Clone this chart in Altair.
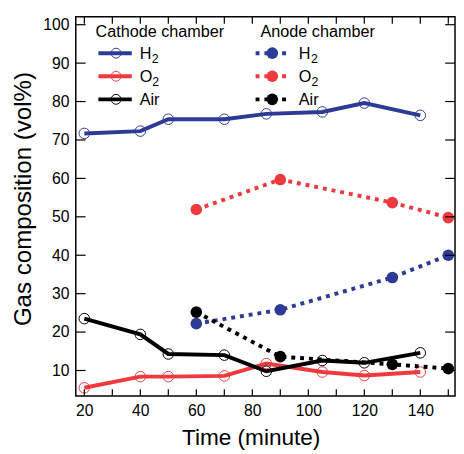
import altair as alt
import pandas as pd

FONT = "Liberation Sans"
BLUE = "#2e3b96"
RED = "#ee3a3f"
BLACK = "#000000"

# ---- data ----
gas_labels = ["H₂", "O₂", "Air"]
gas_colors = [BLUE, RED, BLACK]
# legend text split into main part and subscript
legend_main = ["H", "O", "Air"]
legend_sub = ["2", "2", ""]

time_cathode = [20, 40, 50, 70, 85, 105, 120, 140]
cathode_h2 = [71.7, 72.3, 75.4, 75.4, 76.8, 77.3, 79.6, 76.4]
cathode_o2 = [5.5, 8.4, 8.4, 8.6, 11.8, 9.6, 8.7, 9.6]
cathode_air = [23.5, 19.4, 14.3, 14.0, 9.8, 12.6, 12.0, 14.6]

time_anode = [60, 90, 130, 150]
anode_h2 = [22.2, 25.8, 34.2, 40.0]
anode_o2 = [51.9, 59.7, 53.7, 49.8]
anode_air = [25.2, 13.6, 11.6, 10.5]

x_ticks = [20, 30, 40, 50, 60, 70, 80, 90, 100, 110, 120, 130, 140, 150]
x_labels = [20, 40, 60, 80, 100, 120, 140]
y_ticks = [10, 20, 30, 40, 50, 60, 70, 80, 90, 100]

X_DOMAIN = [16.95, 152.4]
Y_DOMAIN = [3.35, 102.05]
W, H = 386, 386


def long(times, series):
    rows = []
    for gas, vals in zip(gas_labels, series):
        for t, v in zip(times, vals):
            rows.append({"gas": gas, "time": t, "value": v})
    return pd.DataFrame(rows)


cath = long(time_cathode, [cathode_h2, cathode_o2, cathode_air])
anod = long(time_anode, [anode_h2, anode_o2, anode_air])

xs = alt.Scale(domain=X_DOMAIN, nice=False, zero=False)
ys = alt.Scale(domain=Y_DOMAIN, nice=False, zero=False)
cs = alt.Scale(domain=gas_labels, range=gas_colors)

x_axis = alt.Axis(
    values=x_labels, grid=False, ticks=False, domain=False, labelFontSize=16,
    labelPadding=7, labelFont=FONT, labelColor="black", title="Time (minute)",
    titleFont=FONT, titleFontSize=23, titleFontWeight="normal", titleColor="black",
    titleX=178, titleY=49, titleBaseline="alphabetic", titleAlign="center",
)
y_axis = alt.Axis(
    values=y_ticks, grid=False, ticks=False, domain=False, labelFontSize=16,
    labelPadding=7, labelFont=FONT, labelColor="black",
    title="Gas composition (vol%)", titleFont=FONT, titleFontSize=24.5,
    titleFontWeight="normal", titleColor="black", titleX=-46, titleY=185,
    titleBaseline="alphabetic", titleAlign="center", titleAngle=-90,
)

X = alt.X("time:Q", scale=xs, axis=x_axis)
Y = alt.Y("value:Q", scale=ys, axis=y_axis)
C = alt.Color("gas:N", scale=cs, legend=None)

cath_line = alt.Chart(cath).mark_line(strokeWidth=4).encode(x=X, y=Y, color=C, order="time:Q")
cath_pts = alt.Chart(cath).mark_point(shape="circle", filled=False, size=115, strokeWidth=1, opacity=1).encode(x=X, y=Y, color=C)
an_line = alt.Chart(anod).mark_line(strokeWidth=4, strokeDash=[4, 5]).encode(x=X, y=Y, color=C, order="time:Q")
an_pts = alt.Chart(anod).mark_point(shape="circle", filled=True, size=140, opacity=1).encode(x=X, y=Y, color=C)

# ---- inward ticks ----
xt = pd.DataFrame({"t": x_ticks})
yt = pd.DataFrame({"t": y_ticks})
tick_style = dict(color="black", strokeWidth=1.2)
bot = alt.Chart(xt).mark_rule(**tick_style).encode(x=alt.X("t:Q", scale=xs), y=alt.value(H - 7), y2=alt.value(H))
top = alt.Chart(xt).mark_rule(**tick_style).encode(x=alt.X("t:Q", scale=xs), y=alt.value(0), y2=alt.value(7))
lft = alt.Chart(yt).mark_rule(**tick_style).encode(y=alt.Y("t:Q", scale=ys), x=alt.value(0), x2=alt.value(10))
rgt = alt.Chart(yt).mark_rule(**tick_style).encode(y=alt.Y("t:Q", scale=ys), x=alt.value(W - 10), x2=alt.value(W))

# ---- legend ----
one = pd.DataFrame({"k": [0]})
legend_layers = []


def txt(x, y, s, size=16.5, baseline="middle"):
    return alt.Chart(one).mark_text(
        align="left", baseline=baseline, font=FONT, fontSize=size, color="black"
    ).encode(x=alt.value(x), y=alt.value(y), text=alt.value(s))


def label(x, y, main, sub):
    out = [txt(x, y + 6, main, baseline="alphabetic")]
    if sub:
        w = 0.75 * 16.5 if main == "O" else 0.72 * 16.5
        out.append(txt(x + w + 0.5, y + 10, sub, size=12.5, baseline="alphabetic"))
    return out


legend_layers.append(txt(20, 16, "Cathode chamber"))
legend_layers.append(txt(188, 16, "Anode chamber"))
rows_y = [37, 60.5, 84]
for main, sub, col, ly in zip(legend_main, legend_sub, gas_colors, rows_y):
    # cathode
    legend_layers.append(alt.Chart(one).mark_rule(color=col, strokeWidth=4).encode(
        x=alt.value(23), x2=alt.value(57), y=alt.value(ly)))
    legend_layers.append(alt.Chart(one).mark_point(
        shape="circle", filled=False, size=100, strokeWidth=1, color=col, opacity=1
    ).encode(x=alt.value(41), y=alt.value(ly)))
    legend_layers += label(65, ly, main, sub)
    # anode
    legend_layers.append(alt.Chart(one).mark_rule(color=col, strokeWidth=4, strokeDash=[4, 5]).encode(
        x=alt.value(183), x2=alt.value(217), y=alt.value(ly)))
    legend_layers.append(alt.Chart(one).mark_point(
        shape="circle", filled=True, size=140, color=col, opacity=1
    ).encode(x=alt.value(200), y=alt.value(ly)))
    legend_layers += label(227, ly, main, sub)

chart = alt.layer(
    cath_line, cath_pts, an_line, an_pts, bot, top, lft, rgt, *legend_layers
).properties(
    width=W, height=H,
    autosize=alt.AutoSizeParams(type="none"),
    padding={"left": 69, "top": 5, "right": 1, "bottom": 55},
).configure_view(
    stroke="black", strokeWidth=1.5
)

chart.save("out.html", embed_options={"renderer": "svg", "actions": False})
